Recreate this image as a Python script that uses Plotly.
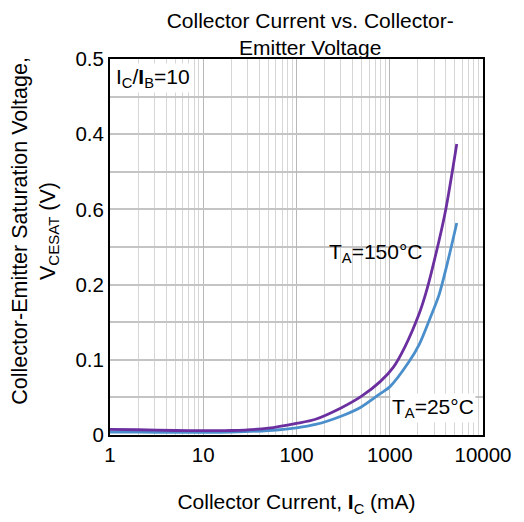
import plotly.graph_objects as go

# Data
ic_150 = [1, 2, 5, 10, 20, 50, 100, 160, 300, 490, 790, 1090, 1450, 2090, 2430, 2870, 3930, 5230]
vce_150 = [0.0075, 0.007, 0.006, 0.0058, 0.006, 0.009, 0.0154, 0.021, 0.036, 0.051, 0.071,
           0.090, 0.117, 0.163, 0.188, 0.222, 0.296, 0.387]

ic_25 = [1, 2, 5, 10, 20, 50, 100, 160, 300, 490, 790, 1000, 1600, 2080, 2700, 3370, 4270, 5230]
vce_25 = [0.004, 0.0038, 0.0035, 0.0035, 0.004, 0.006, 0.0096, 0.014, 0.025, 0.037, 0.055,
          0.064, 0.097, 0.121, 0.155, 0.186, 0.235, 0.282]

x_ticks = [1, 10, 100, 1000, 10000]
x_ticklabels = ["1", "10", "100", "1000", "10000"]
x_minor = [m * d for d in [1, 10, 100, 1000] for m in range(2, 10)]
y_ticks = [0, 0.1, 0.2, 0.3, 0.4, 0.5]
y_ticklabels = ["0", "0.1", "0.2", "0.6", "0.4", "0.5"]

FONT = "Liberation Sans, Arial, sans-serif"

fig = go.Figure()
fig.add_trace(go.Scatter(x=ic_25, y=vce_25, mode="lines",
                         line=dict(color="#4a8fcb", width=2.8, shape="spline", smoothing=0.8),
                         showlegend=False, hoverinfo="skip"))
fig.add_trace(go.Scatter(x=ic_150, y=vce_150, mode="lines",
                         line=dict(color="#6b2fa0", width=2.8, shape="spline", smoothing=0.8),
                         showlegend=False, hoverinfo="skip"))

fig.update_layout(
    width=524, height=522,
    margin=dict(l=110, r=32, t=59, b=84),
    paper_bgcolor="white", plot_bgcolor="white",
    font=dict(family=FONT, size=20, color="black"),
    title=dict(text="Collector Current vs. Collector-<br>Emitter Voltage", x=0.592, xanchor="center",
               xref="container", yref="container", y=0.947, yanchor="middle", font=dict(size=21)),
    xaxis=dict(type="log", range=[0, 4], tickvals=x_ticks, ticktext=x_ticklabels,
               showgrid=True, gridcolor="#b8b8b8", gridwidth=1,
               minor=dict(tickvals=x_minor, showgrid=True, gridcolor="#d6d6d6", gridwidth=1, ticks=""),
               showline=True, linecolor="black", linewidth=2, mirror=True, ticks="",
               tickfont=dict(size=20.5), zeroline=False,
               title=dict(text="Collector Current, <b>I</b><sub>C</sub> (mA)", font=dict(size=21), standoff=30)),
    yaxis=dict(range=[0, 0.5], tickvals=y_ticks, ticktext=y_ticklabels,
               showgrid=True, gridcolor="#c4c4c4", gridwidth=1.5,
               minor=dict(dtick=0.05, showgrid=True, gridcolor="#c4c4c4", gridwidth=1.5, ticks=""),
               showline=True, linecolor="black", linewidth=2, mirror=True, ticks="",
               tickfont=dict(size=20.5), zeroline=False),
    annotations=[
        dict(text="Collector-Emitter Saturation Voltage,<br>V<sub>CESAT</sub> (V)", textangle=-90,
             xref="paper", yref="paper", x=-0.2, y=0.544, xanchor="center", yanchor="middle",
             showarrow=False, font=dict(size=21.5)),
        dict(text="I<sub>C</sub>/<b>I</b><sub>B</sub>=10", xref="paper", yref="paper", x=0.01, y=0.99,
             xanchor="left", yanchor="top", showarrow=False, bgcolor="white", font=dict(size=21)),
        dict(text="T<sub>A</sub>=150°C", x=2.33, y=0.242, xanchor="left", yanchor="middle",
             xref="x", yref="y", showarrow=False, font=dict(size=21)),
        dict(text="T<sub>A</sub>=25°C", x=3.0, y=0.036, xanchor="left", yanchor="middle",
             xref="x", yref="y", showarrow=False, bgcolor="white", font=dict(size=21)),
    ],
)

fig.write_html("out.html")
